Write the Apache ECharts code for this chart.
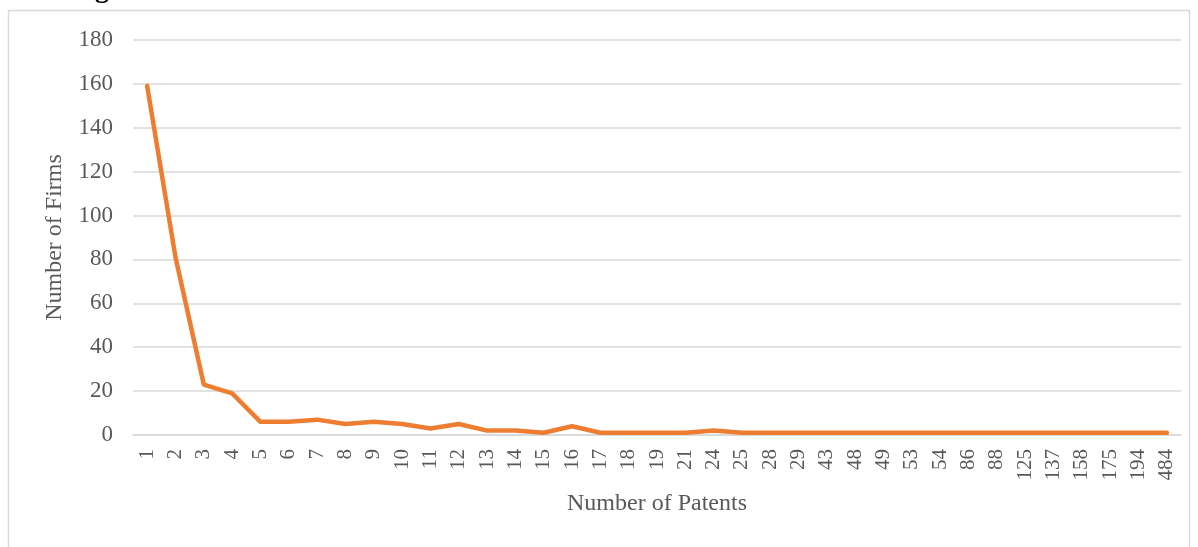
<!DOCTYPE html>
<html><head><meta charset="utf-8">
<script src="https://cdn.jsdelivr.net/npm/echarts@6/dist/echarts.min.js"></script>
<style>html,body{margin:0;padding:0;background:#fff}#c{width:1198px;height:547px}</style>
</head><body><div id="c"></div>
<script>
const categories = ['1','2','3','4','5','6','7','8','9','10','11','12','13','14','15','16','17','18','19','21','24','25','28','29','43','48','49','53','54','86','88','125','137','158','175','194','484'];
const firms = [159,81,23,19,6,6,7,5,6,5,3,5,2,2,1,4,1,1,1,1,2,1,1,1,1,1,1,1,1,1,1,1,1,1,1,1,1];
const yTicks = {min:0, max:180, interval:20};
const FONT = '"Liberation Serif","Times New Roman",serif';
const chart = echarts.init(document.getElementById('c'));
chart.setOption({
  animation:false,
  backgroundColor:'#fff',
  graphic:[
    {type:'rect', shape:{x:8.5,y:10.5,width:1181,height:560}, style:{fill:'none',stroke:'#d9d9d9',lineWidth:1.5}, silent:true},
    {type:'text', x:70, y:4, style:{text:'Figure', font:'bold 28px '+FONT, fill:'#000', verticalAlign:'bottom'}}
  ],
  grid:{left:133,right:17,top:40,bottom:112},
  xAxis:{type:'category',data:categories,boundaryGap:true,
    name:'Number of Patents',nameLocation:'middle',nameGap:57,nameMoveOverlap:false,
    nameTextStyle:{fontFamily:FONT,fontSize:24,color:'#595959'},
    axisLine:{lineStyle:{color:'#d9d9d9',width:1.5}},axisTick:{show:false},
    axisLabel:{rotate:90,interval:0,fontFamily:FONT,fontSize:21,color:'#595959',margin:14}},
  yAxis:{type:'value',min:yTicks.min,max:yTicks.max,interval:yTicks.interval,
    name:'Number of Firms',nameLocation:'middle',nameGap:66,nameMoveOverlap:false,
    nameTextStyle:{fontFamily:FONT,fontSize:24,color:'#595959'},
    axisLine:{show:false},axisTick:{show:false},
    splitLine:{lineStyle:{color:'#d9d9d9',width:1.5}},
    axisLabel:{fontFamily:FONT,fontSize:23,color:'#595959',margin:20}},
  series:[{type:'line',data:firms,showSymbol:false,symbol:'none',
    lineStyle:{color:'#ED7D31',width:4.5,cap:'round',join:'round'}}]
});
</script></body></html>
